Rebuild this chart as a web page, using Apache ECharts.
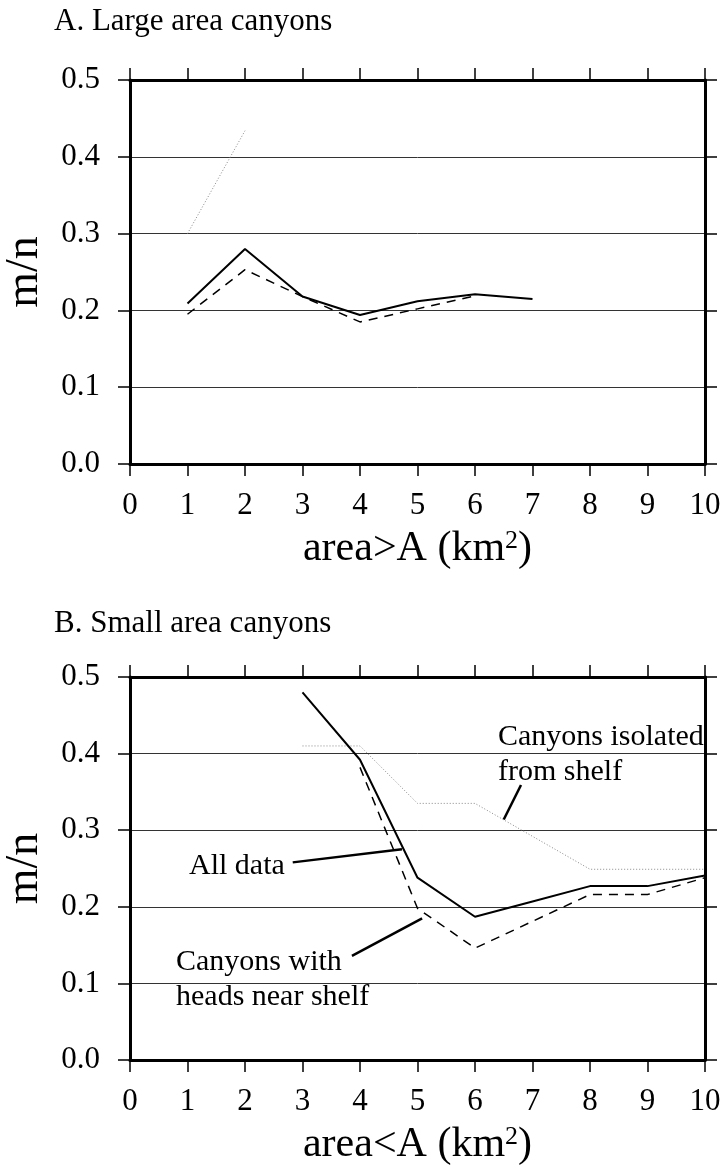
<!DOCTYPE html>
<html>
<head>
<meta charset="utf-8">
<script src="https://cdn.jsdelivr.net/npm/echarts@6/dist/echarts.min.js"></script>
<style>
  html, body { margin: 0; padding: 0; background: #fff; }
  #main { width: 723px; height: 1169px; }
</style>
</head>
<body>
<div id="main"></div>
<script>
// panel A: large area canyons (area > A)
var xA = [1, 2, 3, 4, 5, 6, 7];
var allA = [0.209, 0.280, 0.218, 0.194, 0.212, 0.221, 0.215];
var headsA = [0.195, 0.253, 0.218, 0.185, 0.202, 0.219, null];
var isolatedA = [0.300, 0.434, null, null, null, null, null];

// panel B: small area canyons (area < A)
var xB = [3, 4, 5, 6, 7, 8, 9, 10];
var allB = [0.480, 0.392, 0.238, 0.187, 0.207, 0.227, 0.227, 0.241];
var headsB = [null, 0.382, 0.198, 0.146, 0.181, 0.216, 0.216, 0.238];
var isolatedB = [0.410, 0.410, 0.335, 0.335, 0.292, 0.249, 0.249, 0.249];

// leader lines of the labels in panel B, in data units [x, m/n]
var leaderIsolated = [[6.80, 0.359], [6.50, 0.314]];
var leaderAll = [[2.83, 0.258], [4.73, 0.275]];
var leaderHeads = [[3.86, 0.136], [5.08, 0.185]];

var FONT = '"Liberation Serif", "DejaVu Serif", serif';

function pairs(xs, ys) {
    var out = [];
    xs.forEach(function (x, i) {
        if (ys[i] != null) out.push([x, ys[i]]);
    });
    return out;
}

var frameLine = { show: true, onZero: false, lineStyle: { color: '#000', width: 3 } };
var frameTick = { show: true, inside: false, length: 12, lineStyle: { color: '#000', width: 1.5 } };

function xAxes(gi, label) {
    return [{
        gridIndex: gi, type: 'value', min: 0, max: 10, interval: 1,
        position: 'bottom',
        name: '{n|' + label + ' (km}{s|2}{n|)}',
        nameLocation: 'middle', nameGap: 64,
        nameTextStyle: {
            rich: {
                n: { fontFamily: FONT, fontSize: 42, color: '#000' },
                s: { fontFamily: FONT, fontSize: 26, color: '#000', verticalAlign: 'top' }
            }
        },
        axisLine: frameLine,
        axisTick: frameTick,
        axisLabel: { margin: 26, fontFamily: FONT, fontSize: 31, color: '#000' },
        splitLine: { show: false }
    }, {
        gridIndex: gi, type: 'value', min: 0, max: 10, interval: 1,
        position: 'top',
        axisLine: frameLine,
        axisTick: frameTick,
        axisLabel: { show: false },
        splitLine: { show: false }
    }];
}

function yAxes(gi) {
    return [{
        gridIndex: gi, type: 'value', min: 0, max: 0.5, interval: 0.1,
        position: 'left',
        name: 'm/n', nameLocation: 'middle', nameGap: 82, nameRotate: 90,
        nameTextStyle: { fontFamily: FONT, fontSize: 46, color: '#000' },
        axisLine: frameLine,
        axisTick: frameTick,
        axisLabel: {
            margin: 30, fontFamily: FONT, fontSize: 31, color: '#000',
            formatter: function (v) { return v.toFixed(1); }
        },
        splitLine: { show: true, lineStyle: { color: '#333', width: 1 } }
    }, {
        gridIndex: gi, type: 'value', min: 0, max: 0.5, interval: 0.1,
        position: 'right',
        axisLine: frameLine,
        axisTick: frameTick,
        axisLabel: { show: false },
        splitLine: { show: false }
    }];
}

function lineSeries(xi, yi, data, style) {
    return {
        type: 'line', xAxisIndex: xi, yAxisIndex: yi,
        data: data, showSymbol: false, symbol: 'none',
        lineStyle: style, z: 3
    };
}

var solid = { color: '#000', width: 2, type: 'solid' };
var dashed = { color: '#000', width: 1.5, type: [9, 7] };
var dotted = { color: '#888', width: 1, type: [1, 2] };

function leader(pts) {
    return [{ coord: pts[0] }, { coord: pts[1] }];
}

var isoB = lineSeries(2, 2, pairs(xB, isolatedB), dotted);
isoB.markLine = {
    silent: true, symbol: ['none', 'none'], animation: false,
    label: { show: false },
    lineStyle: { color: '#000', width: 2.5, type: 'solid' },
    data: [leader(leaderIsolated), leader(leaderAll), leader(leaderHeads)]
};

function txt(s, x, y, size) {
    return {
        type: 'text', x: x, y: y, z: 10,
        style: { text: s, font: size + 'px ' + FONT, fill: '#000', textVerticalAlign: 'middle' }
    };
}

var myChart = echarts.init(document.getElementById('main'));
myChart.setOption({
    animation: false,
    backgroundColor: '#fff',
    grid: [
        { left: 130, right: 18, top: 80, height: 384, outerBoundsMode: 'none' },
        { left: 130, right: 18, top: 677, height: 383, outerBoundsMode: 'none' }
    ],
    xAxis: xAxes(0, 'area>A').concat(xAxes(1, 'area<A')),
    yAxis: yAxes(0).concat(yAxes(1)),
    series: [
        lineSeries(0, 0, pairs(xA, isolatedA), dotted),
        lineSeries(0, 0, pairs(xA, headsA), dashed),
        lineSeries(0, 0, pairs(xA, allA), solid),
        isoB,
        lineSeries(2, 2, pairs(xB, headsB), dashed),
        lineSeries(2, 2, pairs(xB, allB), solid)
    ],
    graphic: [
        txt('A. Large area canyons', 54, 22, 31),
        txt('B. Small area canyons', 54, 624, 31),
        txt('Canyons isolated', 498, 737, 30),
        txt('from shelf', 498, 772, 30),
        txt('All data', 189, 866, 30),
        txt('Canyons with', 176, 962, 30),
        txt('heads near shelf', 176, 997, 30)
    ]
});
</script>
</body>
</html>
